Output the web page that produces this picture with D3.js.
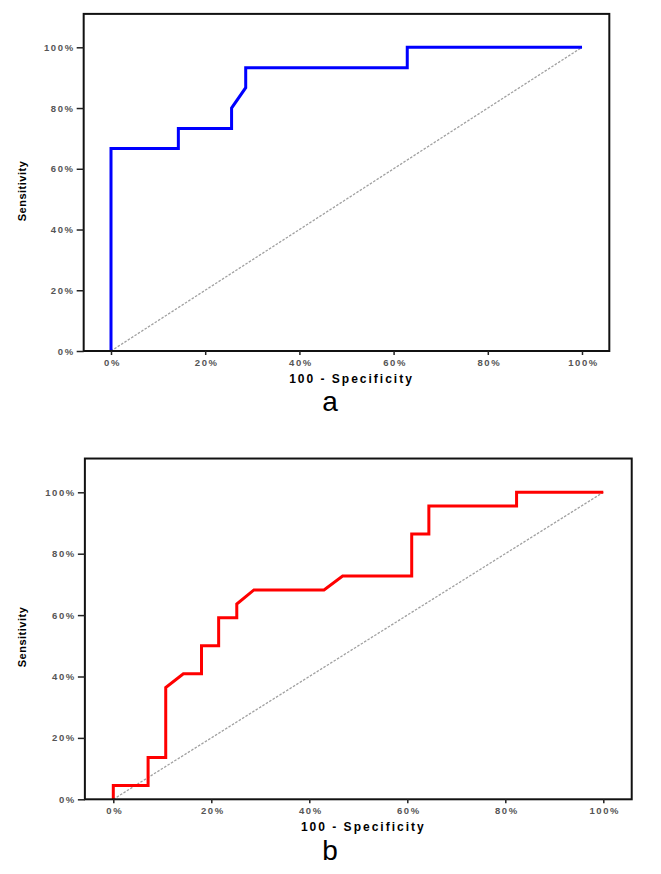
<!DOCTYPE html>
<html>
<head>
<meta charset="utf-8">
<script src="https://cdn.jsdelivr.net/npm/d3@7"></script>
<style>
  body { margin: 0; background: #fff; }
  svg { display: block; }
</style>
</head>
<body>
<svg id="chart" width="661" height="874"></svg>
<script>
// ROC curve a (1 - specificity, sensitivity) in %
var fprA = [0, 0, 14.3, 14.3, 25.6, 25.6, 28.6, 28.6, 62.9, 62.9, 100];
var tprA = [0, 66.7, 66.7, 73.3, 73.3, 80, 86.7, 93.3, 93.3, 100, 100];

// ROC curve b
var fprB = [0, 0, 7.1, 7.1, 10.7, 10.7, 14.3, 18, 18, 21.5, 21.5, 25.2, 25.2, 28.7, 43, 46.8, 60.9, 60.9, 64.4, 64.4, 82.3, 82.3, 100];
var tprB = [0, 4.5, 4.5, 13.6, 13.6, 36.4, 40.9, 40.9, 50, 50, 59.1, 59.1, 63.6, 68.2, 68.2, 72.7, 72.7, 86.4, 86.4, 95.5, 95.5, 100, 100];

var tickVals = [0, 20, 40, 60, 80, 100];
var refLine = [0, 100];

var svg = d3.select("#chart");

// panel layouts (pixel positions of 0% / 100%)
var panels = [
  { fpr: fprA, tpr: tprA, color: "#0000ff", label: "a",
    x0: 111, x1: 582, y0: 351, y1: 47.3, labelY: 411, titleY: 383, sensY: 191 },
  { fpr: fprB, tpr: tprB, color: "#ff0000", label: "b",
    x0: 113.3, x1: 603.3, y0: 799.3, y1: 492.3, labelY: 860, titleY: 831, sensY: 637 }
];

panels.forEach(function (p) {
  var x = d3.scaleLinear().domain([0, 100]).range([p.x0, p.x1]);
  var y = d3.scaleLinear().domain([0, 100]).range([p.y0, p.y1]);

  var g = svg.append("g");

  // diagonal reference
  g.append("line")
    .attr("x1", x(refLine[0])).attr("y1", y(refLine[0]))
    .attr("x2", x(refLine[1])).attr("y2", y(refLine[1]))
    .attr("stroke", "#a0a0a0")
    .attr("stroke-width", 1.3)
    .attr("stroke-dasharray", "2.5,1.5");

  // curve
  var pts = p.fpr.map(function (d, i) { return [d, p.tpr[i]]; });
  var line = d3.line()
    .x(function (d) { return x(d[0]); })
    .y(function (d) { return y(d[1]); });
  g.append("path")
    .datum(pts)
    .attr("d", line)
    .attr("fill", "none")
    .attr("stroke", p.color)
    .attr("stroke-width", 3)
    .attr("stroke-linejoin", "miter");

  // frame
  var fl = x(-5.8), fr = x(105.8), ft = y(111), fb = y(0);
  g.append("rect")
    .attr("x", fl).attr("y", ft)
    .attr("width", fr - fl).attr("height", fb - ft)
    .attr("fill", "none")
    .attr("stroke", "#111")
    .attr("stroke-width", 2);

  // axes
  var yAxis = d3.axisLeft(y).tickValues(tickVals)
    .tickFormat(function (d) { return d + "%"; })
    .tickSize(7).tickPadding(2);
  var ya = g.append("g").attr("transform", "translate(" + fl + ",0)").call(yAxis);

  var xAxis = d3.axisBottom(x).tickValues(tickVals)
    .tickFormat(function (d) { return d + "%"; })
    .tickSize(4).tickPadding(4);
  var xa = g.append("g").attr("transform", "translate(0," + fb + ")").call(xAxis);

  [ya, xa].forEach(function (a) {
    a.select(".domain").remove();
    a.selectAll(".tick line").attr("stroke", "#222").attr("stroke-width", 1.5);
    a.selectAll(".tick text")
      .attr("fill", "#555")
      .style("font-family", "'Liberation Sans', Arial, sans-serif")
      .style("font-weight", "bold")
      .style("font-size", "9.5px")
      .style("letter-spacing", "1.6px");
  });
  xa.selectAll(".tick text").attr("dx", "1px");

  // titles
  g.append("text")
    .attr("x", (p.x0 + p.x1) / 2 + 5)
    .attr("y", p.titleY)
    .attr("text-anchor", "middle")
    .style("font-family", "'Liberation Sans', Arial, sans-serif")
    .style("font-weight", "bold")
    .style("font-size", "12px")
    .style("letter-spacing", "2px")
    .text("100 - Specificity");

  g.append("text")
    .attr("transform", "translate(26," + p.sensY + ") rotate(-90)")
    .attr("text-anchor", "middle")
    .style("font-family", "'Liberation Sans', Arial, sans-serif")
    .style("font-weight", "bold")
    .style("font-size", "11px")
    .style("letter-spacing", "0.5px")
    .text("Sensitivity");

  g.append("text")
    .attr("x", 330)
    .attr("y", p.labelY)
    .attr("text-anchor", "middle")
    .style("font-family", "'Liberation Sans', Arial, sans-serif")
    .style("font-size", "28px")
    .text(p.label);
});
</script>
</body>
</html>
